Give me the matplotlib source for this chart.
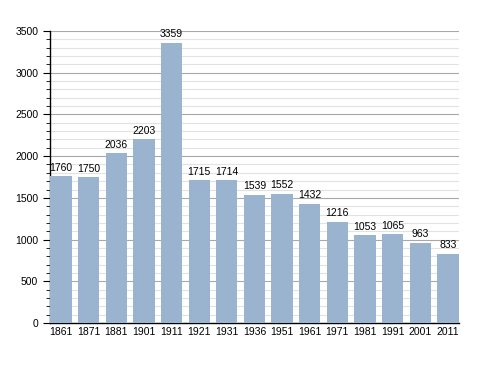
import numpy as np
import matplotlib
matplotlib.use('Agg')
import matplotlib.pyplot as plt
from matplotlib.ticker import MultipleLocator

# Données
years = ['1861', '1871', '1881', '1901', '1911', '1921', '1931', '1936',
         '1951', '1961', '1971', '1981', '1991', '2001', '2011']
population = [1760, 1750, 2036, 2203, 3359, 1715, 1714, 1539,
              1552, 1432, 1216, 1053, 1065, 963, 833]

plt.rcParams['font.family'] = ['Liberation Sans', 'DejaVu Sans']

fig = plt.figure(figsize=(4.88, 3.73), dpi=100)
ax = fig.add_axes([0.1025, 0.134, 0.838, 0.783])

x = np.arange(len(years))
bars = ax.bar(x, population, width=0.77, color='#9ab4cf', zorder=3)

for xi, v in zip(x, population):
    ax.text(xi, v + 40, str(v), ha='center', va='bottom', fontsize=7.5)

ax.set_xlim(-0.4, len(years) - 0.6)
ax.set_ylim(0, 3500)
ax.set_xticks(x)
ax.set_xticklabels(years)

ax.yaxis.set_major_locator(MultipleLocator(500))
ax.yaxis.set_minor_locator(MultipleLocator(100))
ax.grid(axis='y', which='major', color='#a8a8a8', linewidth=0.8, zorder=0)
ax.grid(axis='y', which='minor', color='#e2e2e2', linewidth=0.8, zorder=0)

ax.spines['top'].set_visible(False)
ax.spines['right'].set_visible(False)
ax.spines['left'].set_linewidth(1)
ax.spines['bottom'].set_linewidth(1)
ax.tick_params(axis='x', length=0, labelsize=7.5, pad=3)
ax.tick_params(axis='y', which='major', length=5, labelsize=7.5)
ax.tick_params(axis='y', which='minor', length=3)

fig.savefig('out.png', dpi=100)
